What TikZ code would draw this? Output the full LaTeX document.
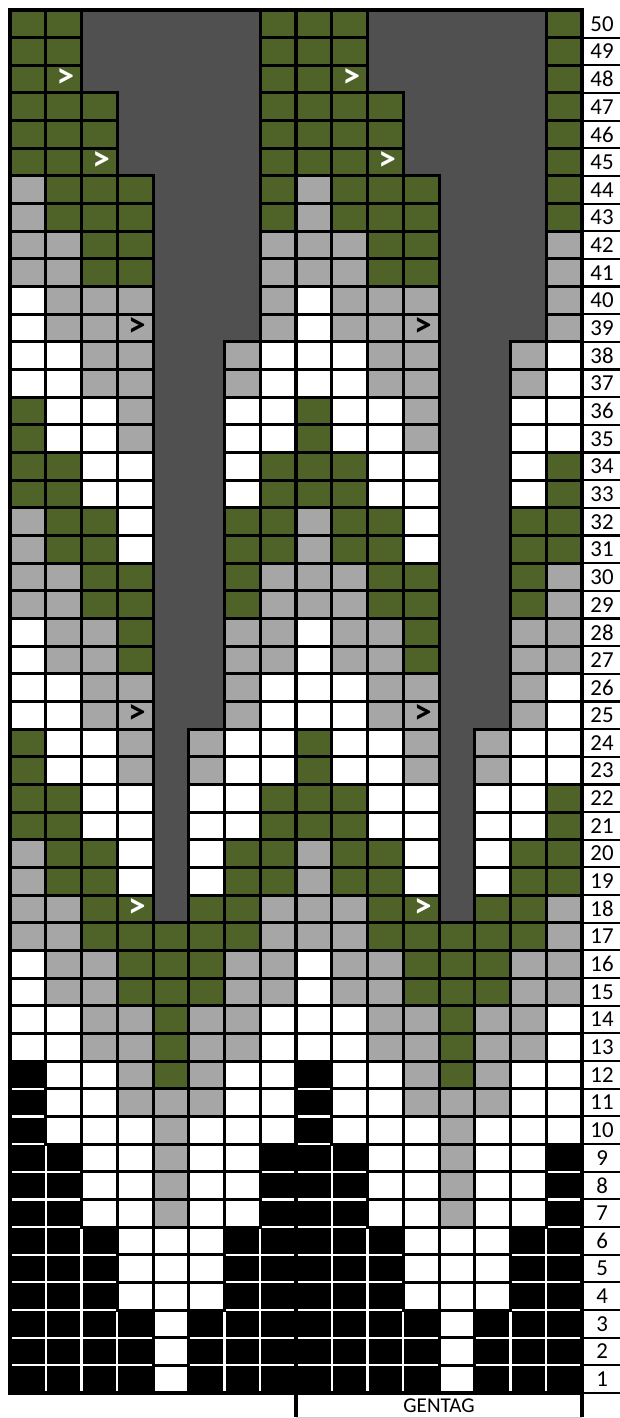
\documentclass[tikz,border=0pt]{standalone}
\usepackage{fontspec}
\setmainfont{Carlito}
\usepackage{tikz}
\usetikzlibrary{positioning}
\definecolor{stitchgreen}{RGB}{79, 98, 40}
\definecolor{stitchgray}{RGB}{166, 166, 166}
\definecolor{nostitch}{RGB}{80, 80, 80}

\begin{document}
\begin{tikzpicture}[
    x=0.715cm, y=0.5532cm,
    cellG/.style={fill=stitchgreen}, cellA/.style={fill=stitchgray},
    cellW/.style={fill=white}, cellK/.style={fill=black}, cellX/.style={fill=nostitch},
    lineK/.style={draw=white, line width=1.3pt},
    lineG/.style={}, lineA/.style={}, lineW/.style={}, lineX/.style={},
    edgeG/.style={draw=black, line width=1.7pt}, edgeA/.style={edgeG}, edgeW/.style={edgeG},
    edgeK/.style={}, edgeX/.style={},
    rowlabel/.style={font=\fontsize{13}{14}\selectfont, inner sep=0pt},
    marker/.style={font=\fontsize{20}{20}\selectfont\bfseries, inner sep=0pt}
]
\useasboundingbox (-0.28,-0.904) rectangle (17.035,50.36);

% Chart rows (one repeat of 8 stitches, knitted twice)
\def\chart{50/{G,G,X,X,X,X,X,G}, 49/{G,G,X,X,X,X,X,G}, 48/{G,G,X,X,X,X,X,G},
  47/{G,G,G,X,X,X,X,G}, 46/{G,G,G,X,X,X,X,G}, 45/{G,G,G,X,X,X,X,G},
  44/{A,G,G,G,X,X,X,G}, 43/{A,G,G,G,X,X,X,G},
  42/{A,A,G,G,X,X,X,A}, 41/{A,A,G,G,X,X,X,A},
  40/{W,A,A,A,X,X,X,A}, 39/{W,A,A,A,X,X,X,A},
  38/{W,W,A,A,X,X,A,W}, 37/{W,W,A,A,X,X,A,W},
  36/{G,W,W,A,X,X,W,W}, 35/{G,W,W,A,X,X,W,W},
  34/{G,G,W,W,X,X,W,G}, 33/{G,G,W,W,X,X,W,G},
  32/{A,G,G,W,X,X,G,G}, 31/{A,G,G,W,X,X,G,G},
  30/{A,A,G,G,X,X,G,A}, 29/{A,A,G,G,X,X,G,A},
  28/{W,A,A,G,X,X,A,A}, 27/{W,A,A,G,X,X,A,A},
  26/{W,W,A,A,X,X,A,W}, 25/{W,W,A,A,X,X,A,W},
  24/{G,W,W,A,X,A,W,W}, 23/{G,W,W,A,X,A,W,W},
  22/{G,G,W,W,X,W,W,G}, 21/{G,G,W,W,X,W,W,G},
  20/{A,G,G,W,X,W,G,G}, 19/{A,G,G,W,X,W,G,G},
  18/{A,A,G,G,X,G,G,A}, 17/{A,A,G,G,G,G,G,A},
  16/{W,A,A,G,G,G,A,A}, 15/{W,A,A,G,G,G,A,A},
  14/{W,W,A,A,G,A,A,W}, 13/{W,W,A,A,G,A,A,W},
  12/{K,W,W,A,G,A,W,W}, 11/{K,W,W,A,A,A,W,W}, 10/{K,W,W,W,A,W,W,W},
  9/{K,K,W,W,A,W,W,K}, 8/{K,K,W,W,A,W,W,K}, 7/{K,K,W,W,A,W,W,K},
  6/{K,K,K,W,W,W,K,K}, 5/{K,K,K,W,W,W,K,K}, 4/{K,K,K,W,W,W,K,K},
  3/{K,K,K,K,W,K,K,K}, 2/{K,K,K,K,W,K,K,K}, 1/{K,K,K,K,W,K,K,K}}

% Cell colours
\foreach \r/\cells in \chart
  \foreach \c [count=\i] in \cells
    \foreach \rep in {0,8}
      \path[cell\c] (\i-1+\rep,\r-1) rectangle (\i+\rep,\r);

% White grid lines in the black part
\foreach \r/\cells in \chart
  \foreach \c [count=\i] in \cells
    \foreach \rep in {0,8}
      \path[line\c] (\i-1+\rep,\r-1) rectangle (\i+\rep,\r);

% Black grid lines
\foreach \r/\cells in \chart
  \foreach \c [count=\i] in \cells
    \foreach \rep in {0,8}
      \path[edge\c] (\i-1+\rep,\r-1) rectangle (\i+\rep,\r);

% Decrease markers
\foreach \r/\col/\clr in {48/2/white, 45/3/white, 39/4/black, 25/4/black, 18/4/white}
  \foreach \rep in {0,8}
    \node[marker, text=\clr] (dec\r-\rep) at (\col-0.45+\rep,\r-0.45) {>};

% Frame and middle line
\draw[line width=2.6pt] (0,0) rectangle (16,50);
\draw[line width=2.4pt] (8,50) -- (8,-0.87);
\draw[line width=2.4pt] (16,0) -- (16,-0.87);
\draw[gray!40, line width=0.6pt] (8,-0.87) -- (16,-0.87);

% Row numbers
\foreach \r in {1,...,50}
  \node[rowlabel] (row\r) at (16.56,\r-0.5) {\r};
\foreach \r in {0,...,49}
  \draw[line width=1.2pt] (16,\r) -- (17.05,\r);

\node[font=\fontsize{12}{13}\selectfont, inner sep=0pt] (gentag) at (12,-0.45) {GENTAG};
\end{tikzpicture}
\end{document}
